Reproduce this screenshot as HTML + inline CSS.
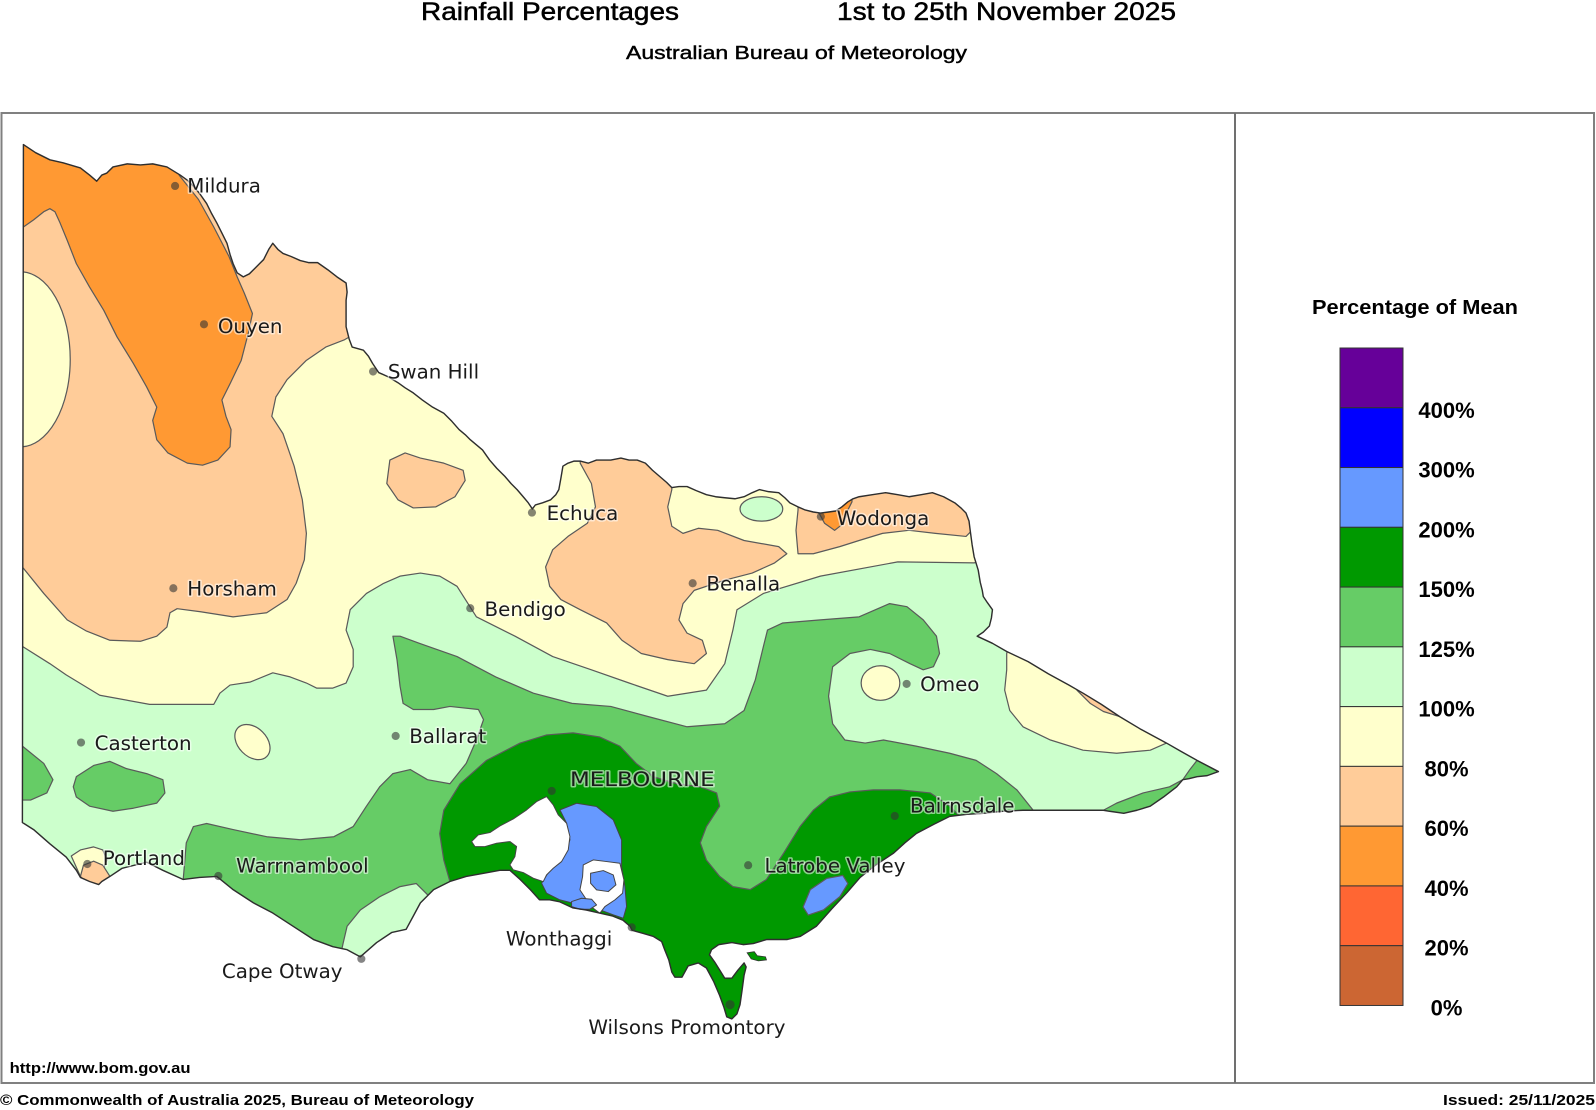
<!DOCTYPE html>
<html><head><meta charset="utf-8"><style>
html,body{margin:0;padding:0;background:#fff;}
svg{display:block;}
.lbl{font-family:"DejaVu Sans","Liberation Sans",sans-serif;font-size:19.5px;fill:#1a1a1a;stroke:#ffffff;stroke-opacity:0.55;stroke-width:3;paint-order:stroke;stroke-linejoin:round;}
.hd{font-family:"Liberation Sans",sans-serif;fill:#000;}
</style></head><body>
<svg width="1596" height="1110" viewBox="0 0 1596 1110" xmlns="http://www.w3.org/2000/svg">
<rect x="0" y="0" width="1596" height="1110" fill="#fff"/>

<!-- Header -->
<text class="hd" x="421" y="20" font-size="25" stroke="#000" stroke-width="0.5" textLength="258" lengthAdjust="spacingAndGlyphs">Rainfall Percentages</text>
<text class="hd" x="837" y="20" font-size="25" stroke="#000" stroke-width="0.5" textLength="339" lengthAdjust="spacingAndGlyphs">1st to 25th November 2025</text>
<text class="hd" x="626" y="59" font-size="18" stroke="#000" stroke-width="0.4" textLength="341" lengthAdjust="spacingAndGlyphs">Australian Bureau of Meteorology</text>

<!-- Frame -->
<rect x="1.5" y="113" width="1592.5" height="970" fill="none" stroke="#808080" stroke-width="2"/>
<line x1="1235" y1="113" x2="1235" y2="1083" stroke="#707070" stroke-width="2"/>

<!-- Footer -->
<text class="hd" x="9.6" y="1073" font-size="15" font-weight="bold" textLength="181" lengthAdjust="spacingAndGlyphs">http://www.bom.gov.au</text>
<text class="hd" x="0" y="1105" font-size="15" font-weight="bold" textLength="474" lengthAdjust="spacingAndGlyphs">© Commonwealth of Australia 2025, Bureau of Meteorology</text>
<text class="hd" x="1443" y="1105" font-size="15" font-weight="bold" textLength="152" lengthAdjust="spacingAndGlyphs">Issued: 25/11/2025</text>

<!-- Legend -->
<text class="hd" x="1312" y="314" font-size="20" font-weight="bold" textLength="206" lengthAdjust="spacingAndGlyphs">Percentage of Mean</text>
<g stroke="#333" stroke-width="1">
<rect x="1340" y="348" width="63" height="59.77" fill="#660099"/>
<rect x="1340" y="407.77" width="63" height="59.77" fill="#0000ff"/>
<rect x="1340" y="467.54" width="63" height="59.77" fill="#6699ff"/>
<rect x="1340" y="527.31" width="63" height="59.77" fill="#009900"/>
<rect x="1340" y="587.08" width="63" height="59.77" fill="#66cc66"/>
<rect x="1340" y="646.85" width="63" height="59.77" fill="#ccffcc"/>
<rect x="1340" y="706.62" width="63" height="59.77" fill="#ffffcc"/>
<rect x="1340" y="766.39" width="63" height="59.77" fill="#ffcc99"/>
<rect x="1340" y="826.16" width="63" height="59.77" fill="#ff9933"/>
<rect x="1340" y="885.93" width="63" height="59.77" fill="#ff6633"/>
<rect x="1340" y="945.7" width="63" height="59.77" fill="#cc6633"/>
</g>
<g class="hd" font-size="22" font-weight="bold" text-anchor="middle">
<text x="1446.5" y="417.8">400%</text>
<text x="1446.5" y="477.5">300%</text>
<text x="1446.5" y="537.3">200%</text>
<text x="1446.5" y="597.1">150%</text>
<text x="1446.5" y="656.9">125%</text>
<text x="1446.5" y="716.6">100%</text>
<text x="1446.5" y="776.4">80%</text>
<text x="1446.5" y="836.2">60%</text>
<text x="1446.5" y="895.9">40%</text>
<text x="1446.5" y="955.7">20%</text>
<text x="1446.5" y="1015.5">0%</text>
</g>

<!-- Map -->
<g transform="scale(1.0179)">
<defs>
<clipPath id="vic"><path id="vicpath" d="M23,142 L35,150 L49,157 L62,160 L79,165 L88,172 L95,178 L100,172 L105,170 L111,164 L125,161 L138,162 L150,161 L164,164 L177,172 L184,177 L190,183 L196,190 L203,200 L208,210 L213,219 L218,229 L223,239 L226,250 L229,259 L233,268 L239,272 L245,269 L249,265 L255,259 L259,255 L264,245 L268,239 L273,245 L278,249 L286,252 L295,256 L303,258 L312,258 L322,265 L331,272 L340,278 L341,287 L340,295 L340,310 L340,321 L343,333 L346,341 L357,344 L362,350 L366,357 L372,366 L381,370 L391,376 L398,381 L406,386 L415,393 L425,400 L436,406 L444,414 L451,422 L457,427 L462,432 L468,437 L474,442 L481,452 L488,460 L496,468 L502,475 L508,481 L514,488 L519,494 L523,500 L526,496 L533,494 L541,491 L546,486 L549,481 L551,470 L553,458 L558,455 L564,453 L570,453 L578,455 L586,452 L600,452 L610,450 L618,452 L626,452 L634,455 L641,462 L648,468 L655,474 L660,479 L667,478 L675,478 L684,482 L694,486 L703,488 L712,489 L722,490 L731,488 L739,484 L746,481 L755,483 L765,484 L771,489 L776,494 L784,498 L791,501 L799,503 L806,504 L814,503 L821,502 L827,498 L833,493 L838,490 L844,488 L857,486 L870,484 L882,486 L893,488 L905,486 L916,484 L927,488 L938,494 L944,499 L949,504 L952,512 L953,520 L955,535 L957,547 L961,560 L963,572 L965,580 L966,586 L970,592 L975,599 L974,607 L972,615 L966,621 L960,625 L975,632 L989,640 L1010,650 L1030,662 L1050,673 L1064,681 L1082,692 L1100,704 L1120,716 L1146,730 L1160,738 L1176,747 L1197,758 L1186,762 L1176,763 L1168,765 L1162,766 L1156,773 L1143,783 L1130,792 L1117,796 L1104,799 L1090,797 L1084,796 L1060,796 L1031,796 L1005,796 L985,797 L966,799 L950,800 L933,802 L917,810 L900,819 L889,828 L878,838 L860,850 L845,862 L832,877 L817,893 L802,910 L786,920 L773,923 L753,923 L740,927 L730,928 L719,926 L706,928 L699,933 L697,938 L702,945 L707,953 L712,961 L719,961 L725,953 L731,946 L733,950 L731,958 L729,973 L727,987 L724,996 L719,1001 L714,999 L711,989 L707,978 L701,964 L694,951 L686,946 L676,949 L670,960 L663,960 L660,955 L657,943 L653,933 L650,925 L642,920 L632,917 L621,914 L619,910 L612,904 L602,900 L589,897 L576,894 L563,892 L550,886 L540,884 L530,884 L521,874 L511,864 L501,855 L491,855 L475,858 L458,861 L442,866 L426,874 L413,887 L406,900 L399,913 L385,916 L370,926 L354,940 L341,933 L327,930 L308,923 L288,910 L268,897 L249,887 L229,874 L213,861 L196,862 L180,864 L160,855 L144,847 L120,853 L108,861 L100,866 L97,869 L88,866 L79,862 L75,855 L65,842 L49,829 L33,815 L22,808 Z"/></clipPath>
</defs>

<g clip-path="url(#vic)" stroke="#5a5a5a" stroke-width="1.2" stroke-linejoin="round">
<rect x="0" y="100" width="1250" height="950" fill="#ccffcc" stroke="none"/>
<path fill="#ffffcc" d="M0,100 L1010,100 L1010,540 L957,553 L882,552 L806,566 L750,583 L724,599 L720,619 L712,652 L694,678 L656,684 L618,671 L581,658 L543,645 L506,625 L468,606 L449,576 L432,566 L413,563 L393,566 L377,573 L360,583 L344,599 L340,619 L347,638 L347,655 L340,671 L327,676 L311,676 L301,671 L285,665 L268,661 L246,670 L226,673 L216,681 L210,692 L147,692 L98,683 L65,663 L49,652 L22,635 L0,635 Z"/>
<path fill="#ffcc99" d="M0,100 L345,100 L345,330 L338,334 L320,341 L301,354 L282,373 L271,390 L267,409 L278,426 L289,458 L297,491 L301,524 L299,550 L291,573 L282,589 L262,602 L229,606 L197,601 L174,598 L167,602 L164,616 L154,625 L138,630 L108,629 L85,620 L66,609 L43,583 L22,557 L0,557 Z"/>
<path fill="#ff9933" d="M0,100 L178,100 L176,172 L195,196 L210,223 L225,252 L233,272 L240,288 L248,308 L244,327 L237,354 L226,377 L218,393 L222,409 L227,422 L226,439 L214,452 L199,457 L184,455 L165,445 L154,432 L150,413 L154,400 L144,380 L131,357 L115,331 L102,305 L88,282 L75,259 L66,236 L59,219 L54,208 L49,205 L43,208 L33,216 L23,223 L0,223 Z"/>
<ellipse cx="20" cy="353" rx="49" ry="86" fill="#ffffcc"/>
<path fill="#ffcc99" d="M383,452 L398,445 L413,450 L436,455 L455,462 L457,472 L447,488 L428,498 L406,499 L391,491 L380,475 Z"/>
<path fill="#ffcc99" d="M570,455 L581,475 L585,498 L577,514 L558,527 L543,540 L536,557 L540,576 L551,589 L570,599 L596,612 L611,629 L630,642 L656,648 L682,652 L694,642 L690,629 L675,622 L667,609 L671,593 L682,580 L712,570 L739,563 L761,553 L773,544 L765,537 L731,531 L705,521 L686,519 L671,524 L660,517 L656,498 L660,481 L660,440 L570,440 Z"/>
<path fill="#ffcc99" d="M784,501 L782,521 L784,544 L799,544 L825,537 L844,531 L867,524 L893,521 L919,524 L949,527 L955,521 L965,470 L784,470 Z"/>
<path fill="#ff9933" d="M803,501 L810,514 L820,521 L829,514 L833,501 L837,493 L837,470 L803,470 Z"/>
<ellipse cx="748" cy="500" rx="21" ry="12" fill="#ccffcc"/>
<path fill="#66cc66" d="M386,625 L393,625 L412,632 L449,645 L487,665 L524,681 L562,691 L600,694 L637,704 L675,714 L712,711 L731,698 L742,668 L750,635 L754,619 L769,612 L806,609 L844,606 L874,593 L891,596 L907,609 L920,625 L923,642 L917,655 L907,658 L894,652 L874,642 L855,638 L835,642 L818,655 L814,684 L818,711 L830,727 L850,730 L868,727 L900,733 L933,740 L959,747 L979,760 L999,776 L1015,796 L1020,830 L800,1010 L350,1000 L180,900 L180,864 L183,828 L190,812 L203,809 L229,815 L262,822 L295,825 L328,822 L347,812 L360,792 L373,773 L386,760 L403,756 L420,766 L442,770 L458,750 L468,727 L475,707 L470,697 L442,694 L426,697 L406,697 L396,691 L393,674 L390,648 Z"/>
<path fill="#66cc66" d="M0,733 L22,733 L43,750 L52,766 L46,779 L30,786 L22,786 L0,786 Z"/>
<path fill="#66cc66" d="M75,763 L92,752 L108,748 L124,755 L144,760 L160,766 L162,779 L154,789 L131,794 L111,797 L88,792 L75,783 L72,773 Z"/>
<path fill="#66cc66" d="M1084,796 L1097,789 L1123,779 L1149,773 L1162,766 L1169,756 L1176,747 L1197,758 L1220,765 L1210,830 L1080,830 Z"/>
<path fill="#ccffcc" d="M337,927 L341,910 L354,894 L373,881 L393,871 L409,868 L419,878 L440,900 L400,970 L330,960 Z"/>
<path fill="#009900" d="M442,866 L436,845 L432,819 L436,796 L452,770 L478,747 L511,730 L537,722 L563,720 L589,724 L609,733 L625,750 L642,763 L665,770 L688,773 L704,779 L707,792 L694,812 L688,828 L694,845 L707,861 L720,871 L737,874 L753,864 L770,838 L786,812 L799,796 L815,783 L835,778 L858,776 L884,776 L914,779 L933,792 L943,802 L960,830 L720,1015 L440,900 Z"/>
<path fill="#6699ff" d="M789,891 L796,874 L812,863 L828,860 L833,868 L825,881 L809,894 L794,899 Z"/>
<path fill="#ffffcc" d="M989,642 L1000,600 L1160,690 L1146,730 L1130,737 L1097,740 L1064,737 L1032,727 L1005,714 L992,698 L987,678 L989,658 Z"/>
<path fill="#ffcc99" d="M1058,678 L1071,691 L1084,699 L1100,704 L1115,690 L1060,655 Z"/>
<ellipse cx="865" cy="671" rx="19" ry="17" fill="#ffffcc"/>
<ellipse cx="248" cy="729" rx="20" ry="14" fill="#ffffcc" transform="rotate(45 248 729)"/>
<path fill="#ffffcc" d="M70,841 L79,835 L92,832 L101,835 L105,845 L101,855 L79,861 Z"/>
<path fill="#ffcc99" d="M82,850 L92,846 L101,850 L108,861 L98,871 L85,868 L79,861 Z"/>
</g>

<!-- small islands near Corner Inlet -->
<path fill="#009900" stroke="#333" stroke-width="0.8" d="M734,936 L741,935 L744,939 L752,940 L753,943 L745,944 L738,942 Z"/>

<!-- Port Phillip / Western Port -->
<g transform="translate(392.9,687.6) scale(0.32745)" stroke="#444" stroke-width="1" stroke-linejoin="round">
<path vector-effect="non-scaling-stroke" fill="#6699ff" d="M480,330 L530,310 L590,320 L640,360 L665,420 L665,500 L675,560 L680,620 L670,655 L640,645 L600,630 L560,610 L520,610 L480,600 L440,580 L425,550 L450,510 L490,470 L510,420 L500,370 Z"/>
<path vector-effect="non-scaling-stroke" fill="#fff" d="M215,425 L235,405 L270,398 L300,378 L340,357 L380,330 L410,305 L440,290 L460,315 L475,345 L500,370 L510,410 L505,450 L485,485 L460,505 L440,525 L430,545 L400,535 L370,518 L340,510 L330,495 L345,470 L350,440 L330,425 L290,430 L255,440 L225,440 Z"/>
<path vector-effect="non-scaling-stroke" fill="#fff" d="M550,495 L580,480 L620,485 L660,490 L672,540 L668,580 L645,600 L615,620 L600,640 L580,625 L560,600 L540,570 L548,530 Z"/>
<path vector-effect="non-scaling-stroke" fill="#6699ff" d="M572,520 L610,512 L640,525 L648,555 L625,575 L590,570 L572,550 Z"/>
<path vector-effect="non-scaling-stroke" fill="#6699ff" d="M515,605 L545,595 L575,598 L590,615 L570,628 L540,628 L515,620 Z"/>
</g>

<use href="#vicpath" fill="none" stroke="#2e2e2e" stroke-width="1.4" stroke-linejoin="round"/>

<!-- Dots -->
<g fill="#333" fill-opacity="0.6">
<circle cx="172" cy="182.7" r="4"/>
<circle cx="200.4" cy="318.6" r="4"/>
<circle cx="366.5" cy="365" r="4"/>
<circle cx="522.6" cy="503.6" r="4"/>
<circle cx="806.4" cy="507.5" r="4"/>
<circle cx="680.5" cy="573" r="4"/>
<circle cx="462" cy="597.5" r="4"/>
<circle cx="890.7" cy="671.9" r="4"/>
<circle cx="170.3" cy="577.9" r="4"/>
<circle cx="79.6" cy="729.5" r="4"/>
<circle cx="388.7" cy="723" r="4"/>
<circle cx="85.8" cy="848.8" r="4"/>
<circle cx="214.5" cy="860.6" r="4"/>
<circle cx="542" cy="777" r="4"/>
<circle cx="735" cy="850" r="4"/>
<circle cx="879" cy="801.6" r="4"/>
<circle cx="620.6" cy="911" r="4"/>
<circle cx="717.2" cy="987" r="4.5"/>
<circle cx="355" cy="942" r="4"/>
</g>

<!-- Labels -->
<text class="lbl" x="184" y="189">Mildura</text>
<text class="lbl" x="214" y="327">Ouyen</text>
<text class="lbl" x="381" y="372">Swan Hill</text>
<text class="lbl" x="537" y="511">Echuca</text>
<text class="lbl" x="822" y="516">Wodonga</text>
<text class="lbl" x="694" y="580">Benalla</text>
<text class="lbl" x="476" y="605">Bendigo</text>
<text class="lbl" x="904" y="679">Omeo</text>
<text class="lbl" x="184" y="585">Horsham</text>
<text class="lbl" x="93" y="737">Casterton</text>
<text class="lbl" x="402" y="730">Ballarat</text>
<text class="lbl" x="101" y="850">Portland</text>
<text class="lbl" x="232" y="857">Warrnambool</text>
<text class="lbl" x="560" y="772" textLength="142" lengthAdjust="spacingAndGlyphs">MELBOURNE</text>
<text class="lbl" x="751" y="857">Latrobe Valley</text>
<text class="lbl" x="894" y="798">Bairnsdale</text>
<text class="lbl" x="497" y="929">Wonthaggi</text>
<text class="lbl" x="218" y="961">Cape Otway</text>
<text class="lbl" x="578" y="1016">Wilsons Promontory</text>
</g>
</svg>
</body></html>
